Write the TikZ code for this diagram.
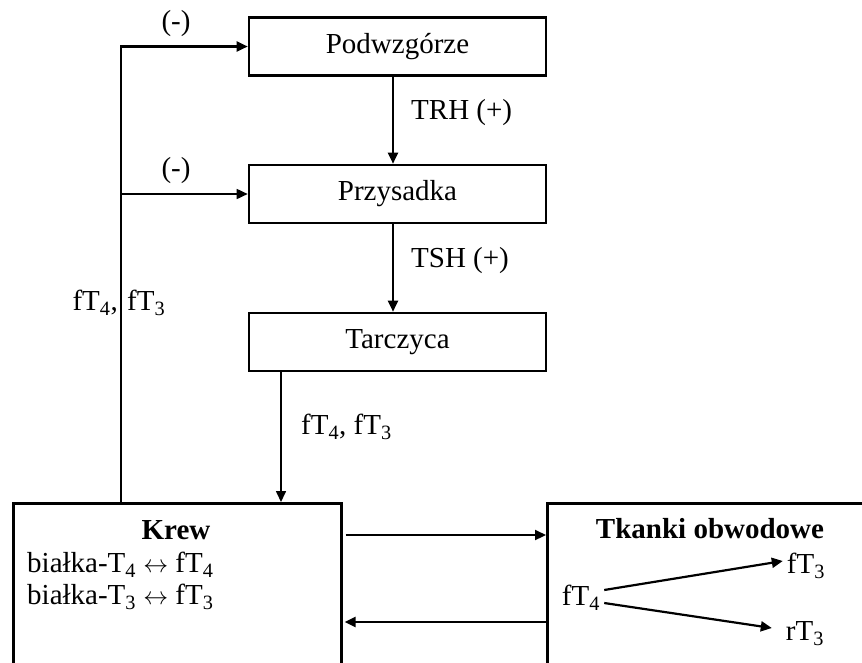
\documentclass[tikz,border=0pt]{standalone}
\usepackage{fontspec}
\setmainfont{Liberation Serif}
\usetikzlibrary{arrows.meta,calc}
\newcommand{\lrarr}{\ \ensuremath{\leftrightarrow}\ }
\begin{document}
\begin{tikzpicture}[x=1pt,y=-1pt,
  every node/.style={font=\fontsize{29}{34}\selectfont, inner sep=0pt},
  boxnode/.style={draw, line width=2.6pt, minimum width=297pt, minimum height=58pt, anchor=center},
  bigbox/.style={draw, line width=2.6pt, anchor=north west},
  arr/.style={line width=2.2pt, -{Triangle[length=11pt,width=10pt]}},
  thinarr/.style={line width=1.6pt, -{Triangle[length=11pt,width=10pt]}},
  lbl/.style={anchor=center}]
\clip (0,0) rectangle (862,662);
\fill[white] (0,0) rectangle (862,662);
% boxes
\node[boxnode] (pod) at (397.5,46.5) {Podwzgórze};
\node[boxnode] (prz) at (397.5,194) {Przysadka};
\node[boxnode] (tar) at (397.5,342) {Tarczyca};
\node[bigbox, minimum width=328pt, minimum height=190pt] (krew) at (12,502) {};
\node[bigbox, minimum width=340pt, minimum height=190pt] (tk) at (546,502) {};
% texts in boxes
\node[font=\fontsize{29}{34}\selectfont\bfseries] (krewt) at (176,530) {Krew};
\node[anchor=west] (b4) at (27,565) {białka-T\textsubscript{4}\lrarr fT\textsubscript{4}};
\node[anchor=west] (b3) at (27,597) {białka-T\textsubscript{3}\lrarr fT\textsubscript{3}};
\node[font=\fontsize{29}{34}\selectfont\bfseries] (tkt) at (710,529) {Tkanki obwodowe};
\node (f4) at (581,598) {fT\textsubscript{4}};
\node (f3) at (806,566) {fT\textsubscript{3}};
\node (r3) at (805,634) {rT\textsubscript{3}};
% vertical chain
\draw[arr] ([xshift=-4.5pt]pod.south) -- ([xshift=-4.5pt]prz.north);
\draw[arr] ([xshift=-4.5pt]prz.south) -- ([xshift=-4.5pt]tar.north);
\node[anchor=west] (trh) at (411,113) {TRH (+)};
\node[anchor=west] (tsh) at (411,261) {TSH (+)};
% Tarczyca -> Krew
\coordinate (tb) at ([xshift=-116.5pt]tar.south);
\draw[thinarr] (tb) -- (tb |- krew.north);
\node[anchor=west] (ft1) at (301,427) {fT\textsubscript{4}, fT\textsubscript{3}};
% feedback
\coordinate (fb0) at (121,502);
\coordinate (fb2) at (fb0 |- prz.west);
\draw[line width=2.8pt] (fb0) |- ([xshift=-12pt]pod.west);
\draw[arr] ([xshift=-13pt]pod.west) -- (pod.west);
\draw[thinarr] (fb2) -- (prz.west);
\node (m1) at (176,24) {(-)};
\node (m2) at (176,171) {(-)};
\node[anchor=east] (fl) at (118,303) {fT\textsubscript{4},};
\node[anchor=west] (fr) at (127,303) {fT\textsubscript{3}};
% Krew <-> Tkanki
\draw[arr] ($(krew.north east)+(3,33)$) -- ($(tk.north west)+(0,33)$);
\draw[arr] ($(tk.north west)+(0,120)$) -- ($(krew.north east)+(2,120)$);
% within Tkanki
\draw[arr] ($(f4.east)+(4,-8)$) -- ($(f3.west)+(-4,-5)$);
\draw[arr] ($(f4.east)+(4,5)$) -- ($(r3.west)+(-14,-6)$);
\end{tikzpicture}
\end{document}
